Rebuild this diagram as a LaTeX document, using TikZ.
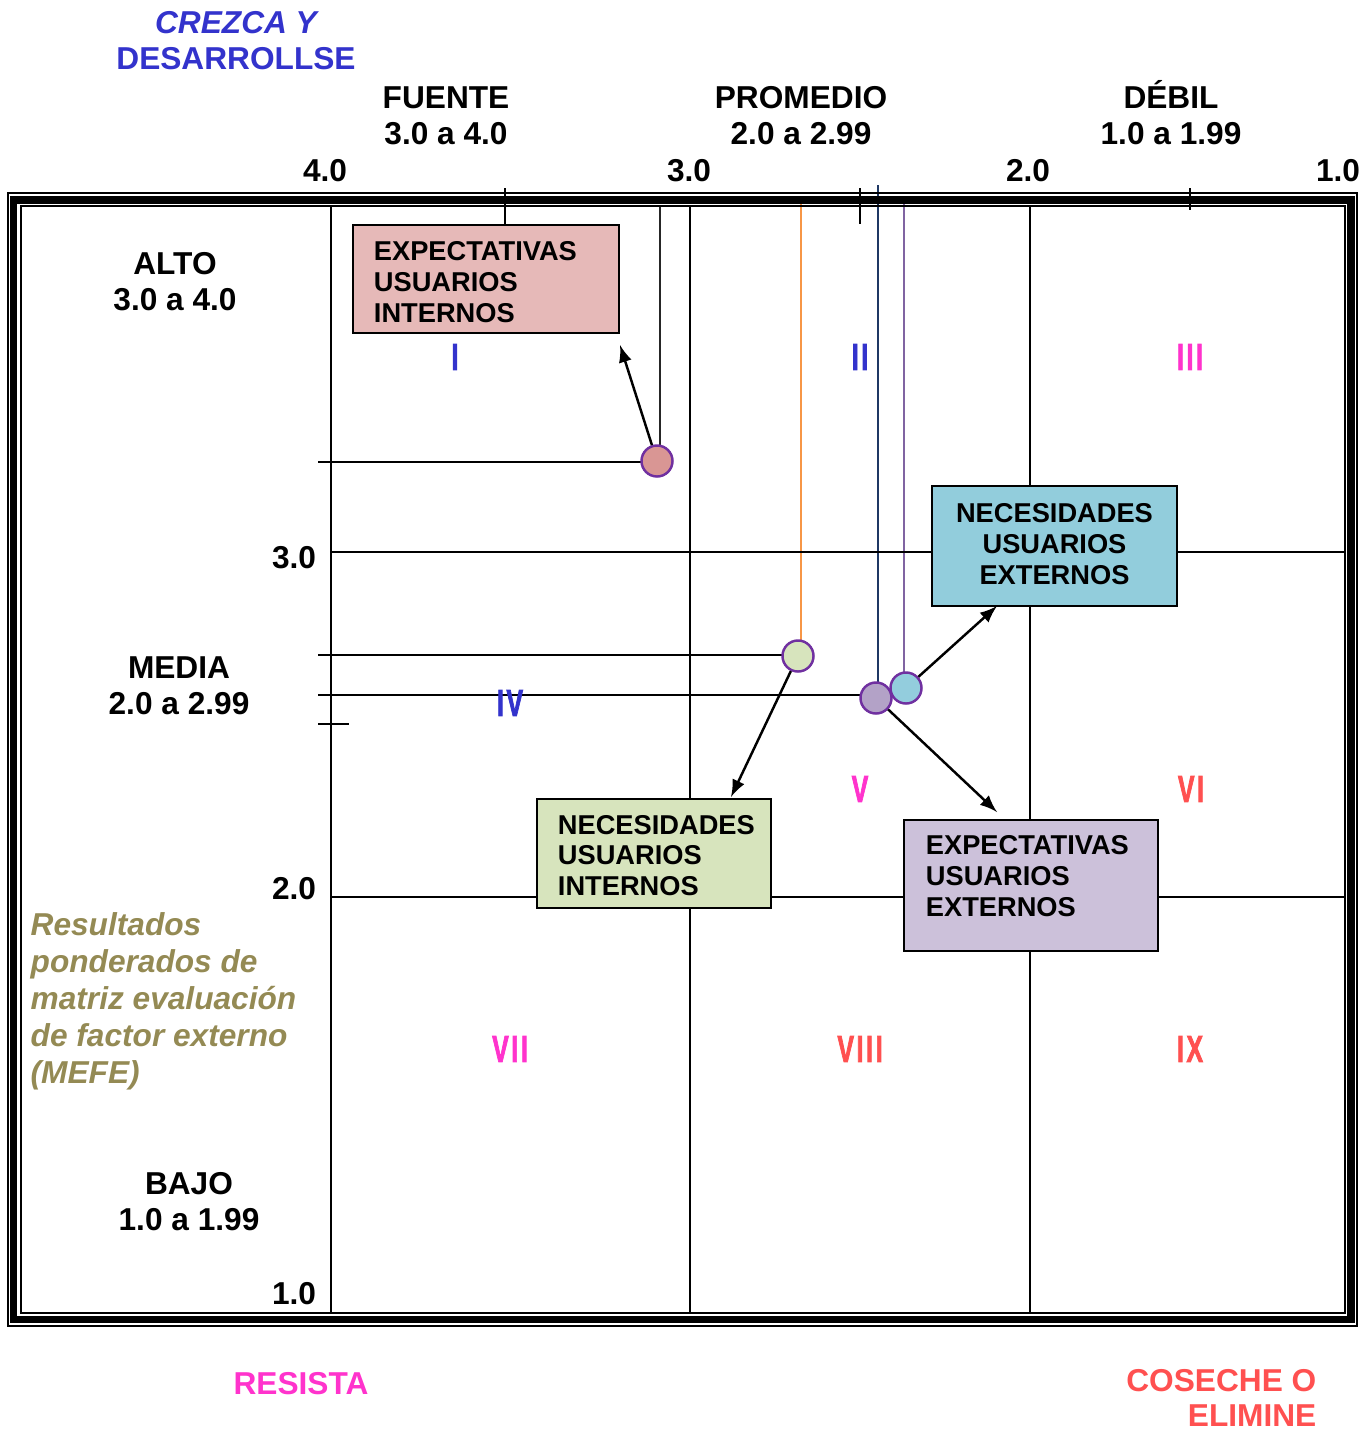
\documentclass[tikz,border=0pt]{standalone}
\usepackage{fontspec}
\usetikzlibrary{backgrounds}
\setmainfont{Liberation Sans}
\newfontfamily\angosta[FakeStretch=0.66,FakeBold=1.8,LetterSpace=7]{Liberation Sans Bold}
\definecolor{azul}{HTML}{3333CC}
\definecolor{fucsia}{HTML}{FF33CC}
\definecolor{rojo}{HTML}{FF5050}
\definecolor{oliva}{HTML}{948A54}
\definecolor{rosa}{HTML}{E6B9B8}
\definecolor{celeste}{HTML}{92CDDC}
\definecolor{verdeclaro}{HTML}{D7E4BD}
\definecolor{lila}{HTML}{CCC1DA}
\definecolor{morado}{HTML}{7030A0}
\definecolor{naranja}{HTML}{F79646}
\definecolor{marino}{HTML}{1F3864}
\definecolor{violeta}{HTML}{8064A2}
\tikzset{
  rotulo/.style={font=\fontsize{9}{10.2}\selectfont\bfseries, align=center, inner sep=0pt},
  romano/.style={font=\fontsize{10.7}{12}\selectfont\angosta, inner sep=0pt},
  caja/.style={draw, line width=0.45pt, font=\fontsize{7.75}{8.8}\selectfont\bfseries, inner sep=0pt},
  punto/.style={circle, draw=morado, line width=0.7pt, minimum size=0.31cm, inner sep=0pt},
  rejilla/.style={line width=0.6pt}
}
\begin{document}
\begin{tikzpicture}[x=0.01cm, y=-0.01cm, >=latex]
  \useasboundingbox (0,0) rectangle (1369,1430);
  % marco triple
  \draw[line width=0.6pt] (8,193) rectangle (1357,1326);
  \draw[line width=2.1pt] (13.5,200) rectangle (1351,1319.5);
  \draw[line width=0.6pt] (21,206) rectangle (1345,1313);
  % rejilla
  \draw[rejilla] (331,206) -- (331,1313);
  \draw[rejilla] (690,206) -- (690,1313);
  \draw[rejilla] (1030,206) -- (1030,1313);
  \draw[rejilla] (331,552) -- (1345,552);
  \draw[rejilla] (331,897) -- (1345,897);
  % marcas
  \draw[rejilla] (505,188) -- (505,224);
  \draw[rejilla] (860,188) -- (860,224);
  \draw[rejilla] (1190,188) -- (1190,210);
  \draw[rejilla] (318,724) -- (349,724);
  % encabezados
  \node[rotulo, text=azul] (crezca) at (236,41) {{\itshape CREZCA Y}\\DESARROLLSE};
  \node[rotulo] (fuente) at (446,116) {FUENTE\\3.0 a 4.0};
  \node[rotulo] (promedio) at (801,116) {PROMEDIO\\2.0 a 2.99};
  \node[rotulo] (debil) at (1171,113) {DÉBIL\\1.0 a 1.99};
  \node[rotulo] (x cuatro) at (325,171) {4.0};
  \node[rotulo] (x tres) at (689,171) {3.0};
  \node[rotulo] (x dos) at (1028,171) {2.0};
  \node[rotulo] (x uno) at (1338,171) {1.0};
  \node[rotulo] (alto) at (175,282) {ALTO\\3.0 a 4.0};
  \node[rotulo] (media) at (179,686) {MEDIA\\2.0 a 2.99};
  \node[rotulo] (bajo) at (189,1202) {BAJO\\1.0 a 1.99};
  \node[rotulo] (y tres) at (294,558) {3.0};
  \node[rotulo] (y dos) at (294,889) {2.0};
  \node[rotulo] (y uno) at (294,1294) {1.0};
  \node[rotulo, text=oliva, anchor=west, align=left, font=\fontsize{9}{10.5}\selectfont\bfseries\itshape] (mefe) at (30,1001)
    {Resultados\\ponderados de\\matriz evaluación\\de factor externo\\(MEFE)};
  \node[rotulo, text=fucsia] (resista) at (301,1384) {RESISTA};
  \node[rotulo, text=rojo, anchor=east, align=right] (coseche) at (1317,1398) {COSECHE O\\ELIMINE};
  % cuadrantes
  \node[romano, text=azul] (q1) at (455,357) {I};
  \node[romano, text=azul] (q2) at (860,357) {II};
  \node[romano, text=fucsia] (q3) at (1190,357) {III};
  \node[romano, text=azul] (q4) at (510,703) {IV};
  \node[romano, text=fucsia] (q5) at (860,789) {V};
  \node[romano, text=rojo] (q6) at (1191,789) {VI};
  \node[romano, text=fucsia] (q7) at (510,1049) {VII};
  \node[romano, text=rojo] (q8) at (860,1049) {VIII};
  \node[romano, text=rojo] (q9) at (1190,1049) {IX};
  % cajas
  \node[caja, fill=rosa, minimum width=2.66cm, minimum height=1.08cm, text width=2.24cm, align=left, text height=7.2pt] (box ei) at (486,279)
    {EXPECTATIVAS\\USUARIOS\\INTERNOS};
  \node[caja, fill=celeste, minimum width=2.45cm, minimum height=1.20cm, text width=2.3cm, align=center, text depth=19pt] (box ne) at (1054.5,546)
    {NECESIDADES\\USUARIOS\\EXTERNOS};
  \node[caja, fill=verdeclaro, minimum width=2.34cm, minimum height=1.09cm, text width=1.92cm, align=left, text height=6.6pt] (box ni) at (654,853.5)
    {NECESIDADES\\USUARIOS\\INTERNOS};
  \node[caja, fill=lila, minimum width=2.54cm, minimum height=1.31cm, text width=2.10cm, align=left, text depth=23pt] (box ee) at (1031,885.5)
    {EXPECTATIVAS\\USUARIOS\\EXTERNOS};
  % puntos
  \node[punto, fill={rgb,255:red,217;green,150;blue,148}] (dot ei) at (657,461) {};
  \node[punto, fill=verdeclaro] (dot ni) at (798,656) {};
  \node[punto, fill={rgb,255:red,179;green,162;blue,199}] (dot ee) at (876,698) {};
  \node[punto, fill={rgb,255:red,147;green,205;blue,221}] (dot ne) at (906,688) {};
  % guias
  \coordinate (h ei) at (318,462);
  \coordinate (h ni) at (318,655);
  \coordinate (h ee) at (318,695);
  \coordinate (v ei) at (660,206);
  \coordinate (v ni) at (801,196);
  \coordinate (v ee) at (878,185);
  \coordinate (v ne) at (904,196);
  \begin{scope}[on background layer]
    \draw[rejilla] (h ei) -- (h ei -| dot ei.center);
    \draw[rejilla] (h ni) -- (h ni -| dot ni.center);
    \draw[rejilla] (h ee) -- (h ee -| dot ee.center);
    \draw[rejilla, black!85] (v ei) -- (v ei |- dot ei.center);
    \draw[rejilla, naranja] (v ni) -- (v ni |- dot ni.center);
    \draw[rejilla, marino] (v ee) -- (v ee |- dot ee.center);
    \draw[rejilla, violeta] (v ne) -- (v ne |- dot ne.center);
  \end{scope}
  % flechas
  \coordinate (tip ei) at (620,345);
  \coordinate (tip ni) at (731,797);
  \coordinate (tip ee) at (997,812);
  \coordinate (tip ne) at (997,606);
  \draw[->, line width=0.7pt] (dot ei) -- (tip ei);
  \draw[->, line width=0.7pt] (dot ni) -- (tip ni);
  \draw[->, line width=0.7pt] (dot ee) -- (tip ee);
  \draw[->, line width=0.7pt] (dot ne) -- (tip ne);
\end{tikzpicture}
\end{document}
